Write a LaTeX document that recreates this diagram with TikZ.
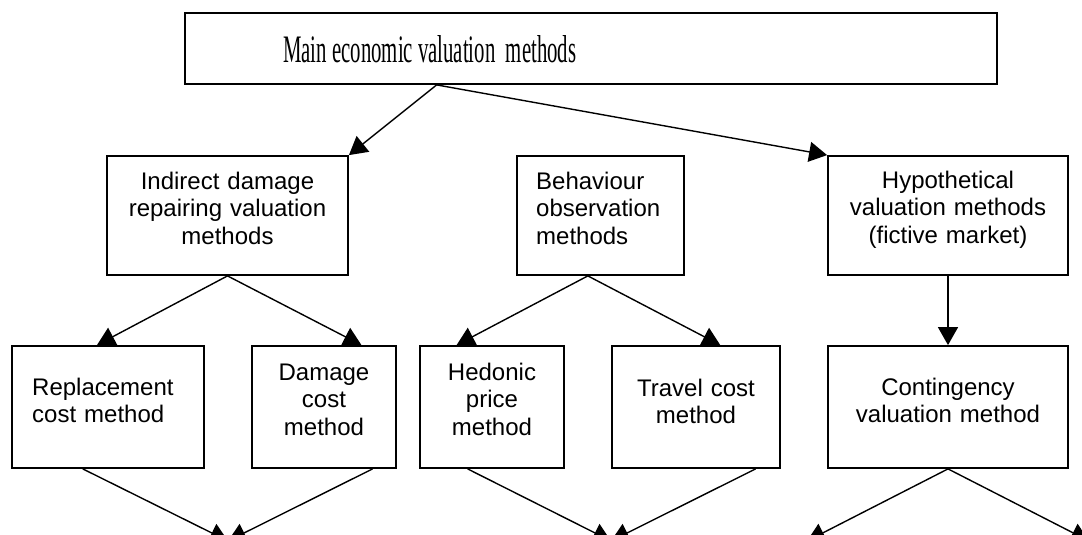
\documentclass[tikz,border=0pt]{standalone}
\usepackage{fontspec}
\setmainfont{Liberation Serif}
\newfontfamily\arialfont{Liberation Sans}
\usepackage{graphicx}
\usetikzlibrary{arrows.meta,calc}
\begin{document}
\begin{tikzpicture}[x=1pt,y=-1pt,
  box/.style={draw=black, line width=1.8pt, rectangle, inner sep=0pt},
  lbl/.style={inner sep=0pt, font=\arialfont\fontsize{24}{27.5}\selectfont},
  link/.style={line width=1.4pt, -{Triangle[length=18pt,width=20pt]}},
]
\useasboundingbox (0,0) rectangle (1082,535);
\fill[white] (0,0) rectangle (1082,535);
\clip (0,0) rectangle (1082,535);

% title
\node[box, minimum width=812pt, minimum height=71pt] (title) at (591,48.5) {};
\node[anchor=base west, inner sep=0pt] (titletext) at (283,63)
  {\resizebox{293pt}{27pt}{Main economic valuation\ \ methods}};

% second level
\node[box, minimum width=241pt, minimum height=119pt] (b1) at (227.5,215.5) {};
\node[box, minimum width=167pt, minimum height=119pt] (b2) at (600.5,215.5) {};
\node[box, minimum width=240pt, minimum height=119pt] (b3) at (948,215.5) {};
\node[lbl, anchor=base, text width=241pt, align=center] (t1) at (227.5,189)
  {Indirect damage\\repairing valuation\\methods};
\node[lbl, anchor=base west, text width=150pt, align=left] (t2) at (536,189)
  {Behaviour\\observation\\methods};
\node[lbl, anchor=base, text width=240pt, align=center] (t3) at (948,188)
  {Hypothetical\\valuation methods\\(fictive market)};

% third level
\node[box, minimum width=192pt, minimum height=122pt] (r1) at (108,407) {};
\node[box, minimum width=144pt, minimum height=122pt] (r2) at (324,407) {};
\node[box, minimum width=144pt, minimum height=122pt] (r3) at (492,407) {};
\node[box, minimum width=168pt, minimum height=122pt] (r4) at (696,407) {};
\node[box, minimum width=240pt, minimum height=122pt] (r5) at (948,407) {};
\node[lbl, anchor=base west, text width=180pt, align=left] (s1) at (32,395)
  {Replacement\\cost method};
\node[lbl, anchor=base, text width=144pt, align=center] (s2) at (324,380)
  {Damage\\cost\\method};
\node[lbl, anchor=base, text width=144pt, align=center] (s3) at (492,380)
  {Hedonic\\price\\method};
\node[lbl, anchor=base, text width=168pt, align=center] (s4) at (696,396)
  {Travel cost\\method};
\node[lbl, anchor=base, text width=240pt, align=center] (s5) at (948,395)
  {Contingency\\valuation method};

% lower ends of the last arrows
\coordinate (e1) at (228,541);
\coordinate (e2) at (611,541);
\coordinate (e3) at (807,541);
\coordinate (e4) at (1089,541);

% connectors
\draw[link] ($(title.south west)!0.3103!(title.south east)$) -- (b1.north east);
\draw[link] ($(title.south west)!0.3103!(title.south east)$) -- (b3.north west);

\draw[link] (b1.south) -- ($(r1.north west)!0.443!(r1.north east)$);
\draw[link] (b1.south) -- ($(r2.north west)!0.757!(r2.north east)$);
\draw[link] ($(b2.south west)!0.425!(b2.south east)$) -- ($(r3.north west)!0.257!(r3.north east)$);
\draw[link] ($(b2.south west)!0.425!(b2.south east)$) -- ($(r4.north west)!0.643!(r4.north east)$);
\draw[link] (b3.south) -- (r5.north);

\draw[link] ($(r1.south west)!0.37!(r1.south east)$) -- (e1);
\draw[link] ($(r2.south west)!0.833!(r2.south east)$) -- (e1);
\draw[link] ($(r3.south west)!0.333!(r3.south east)$) -- (e2);
\draw[link] ($(r4.south west)!0.851!(r4.south east)$) -- (e2);
\draw[link] (r5.south) -- (e3);
\draw[link] (r5.south) -- (e4);
\end{tikzpicture}
\end{document}
